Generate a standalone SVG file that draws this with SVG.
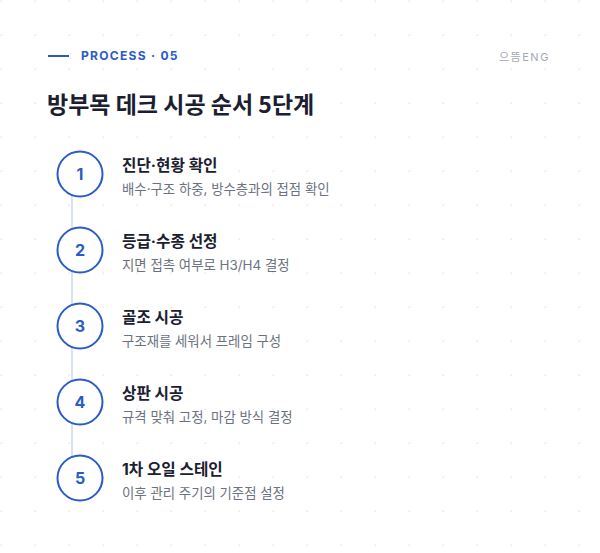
<svg xmlns="http://www.w3.org/2000/svg" width="600" height="553" viewBox="0 0 600 553">
  <defs>
    <pattern id="dots" x="0" y="0" width="34" height="34" patternUnits="userSpaceOnUse">
      <rect x="0.5" y="0.5" width="1.6" height="1.6" fill="#e9eaec"/>
    </pattern>
    <style>
      .kicker{font-family:Inter,"Liberation Sans","Noto Sans CJK KR",sans-serif;font-size:12px;font-weight:700;fill:#2a5bc7;letter-spacing:1.3px}
      .brand{font-family:Inter,"Liberation Sans","Noto Sans CJK KR",sans-serif;font-size:11px;fill:#a3a9b5;letter-spacing:1.5px}
      .title{font-family:"Noto Sans CJK KR",sans-serif;font-size:23px;font-weight:700;fill:#1b2030}
      .step circle{fill:#ffffff;stroke:#2a5bc7;stroke-width:2}
      .num{font-family:Inter,"Liberation Sans",sans-serif;font-size:16px;font-weight:700;fill:#2a5bc7;text-anchor:middle}
      .head{font-family:Inter,"Noto Sans CJK KR",sans-serif;font-size:15.7px;font-weight:700;fill:#1b2030}
      .sub{font-family:Inter,"Noto Sans CJK KR",sans-serif;font-size:13.4px;fill:#6b7280}
    </style>
  </defs>
  <rect width="600" height="553" fill="#ffffff"/>
  <rect width="600" height="553" fill="url(#dots)"/>

  <g id="header">
    <line x1="48" y1="56" x2="69" y2="56" stroke="#2a5bc7" stroke-width="2"/>
    <text class="kicker" x="81" y="60">PROCESS · 05</text>
    <text class="brand" x="499" y="61">으뜸ENG</text>
    <text class="title" x="47" y="113">방부목 데크 시공 순서 5단계</text>
  </g>

  <g id="connectors">
    <line x1="72" y1="180" x2="72" y2="470" stroke="#d6e1f3" stroke-width="2"/>
  </g>

  <g id="step1" class="step">
    <circle cx="80" cy="174" r="22.5"/>
    <text class="num" x="80" y="180">1</text>
    <text class="head" x="122" y="171">진단·현황 확인</text>
    <text class="sub" x="122" y="194">배수·구조 하중, 방수층과의 접점 확인</text>
  </g>
  <g id="step2" class="step">
    <circle cx="80" cy="250" r="22.5"/>
    <text class="num" x="80" y="256">2</text>
    <text class="head" x="122" y="247">등급·수종 선정</text>
    <text class="sub" x="122" y="270">지면 접촉 여부로 H3/H4 결정</text>
  </g>
  <g id="step3" class="step">
    <circle cx="80" cy="326" r="22.5"/>
    <text class="num" x="80" y="332">3</text>
    <text class="head" x="122" y="323">골조 시공</text>
    <text class="sub" x="122" y="346">구조재를 세워서 프레임 구성</text>
  </g>
  <g id="step4" class="step">
    <circle cx="80" cy="402" r="22.5"/>
    <text class="num" x="80" y="408">4</text>
    <text class="head" x="122" y="399">상판 시공</text>
    <text class="sub" x="122" y="422">규격 맞춰 고정, 마감 방식 결정</text>
  </g>
  <g id="step5" class="step">
    <circle cx="80" cy="478" r="22.5"/>
    <text class="num" x="80" y="484">5</text>
    <text class="head" x="122" y="475">1차 오일 스테인</text>
    <text class="sub" x="122" y="498">이후 관리 주기의 기준점 설정</text>
  </g>
</svg>
